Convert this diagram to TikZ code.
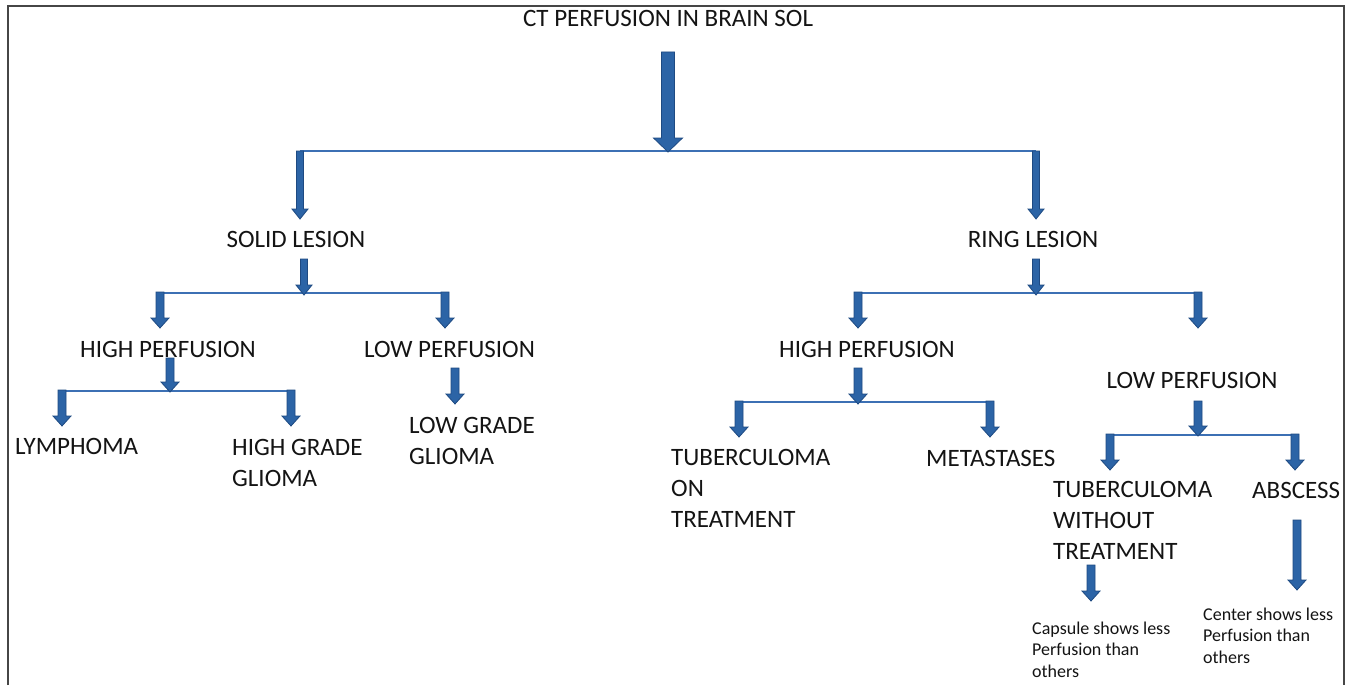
\documentclass[tikz,border=0pt]{standalone}
\usepackage{fontspec}
\setmainfont{Carlito}
\definecolor{arrfill}{RGB}{44,100,166}
\definecolor{arrline}{RGB}{30,74,130}
\definecolor{conn}{RGB}{60,112,180}
\definecolor{txt}{RGB}{20,20,20}
\definecolor{frame}{RGB}{70,70,70}
\newcommand\blkarrow[6]{%
  \filldraw[blockarr] ({#1-#4},#2) -- ({#1+#4},#2) -- ({#1+#4},{#3-#6}) -- ({#1+#5},{#3-#6}) -- (#1,#3) -- ({#1-#5},{#3-#6}) -- ({#1-#4},{#3-#6}) -- cycle;}
\tikzset{
  blockarr/.style={fill=arrfill, draw=arrline, line width=0.8pt, line join=miter},
  connline/.style={draw=conn, line width=2pt},
  big/.style={font=\fontsize{25}{31}\selectfont, text=txt, inner sep=0pt, align=left},
  small/.style={font=\fontsize{18}{21.5}\selectfont, text=txt, inner sep=0pt, align=left},
}
\begin{document}
\begin{tikzpicture}[x=1pt, y=-1pt]
\useasboundingbox (0,0) rectangle (1351,685);
\fill[white] (0,0) rectangle (1351,685);
% frame
\draw[frame, line width=1.6pt] (8,685) -- (8,6) -- (1344,6) -- (1344,685);

% texts (multi-line nodes: base = last line)
\node[big, anchor=base] (title) at (668,27) {CT PERFUSION IN BRAIN SOL};
\node[big, anchor=base] (solid) at (296,247) {SOLID LESION};
\node[big, anchor=base] (ring) at (1033,247) {RING LESION};
\node[big, anchor=base] (hpl) at (168,357) {HIGH PERFUSION};
\node[big, anchor=base] (lpl) at (449.5,357) {LOW PERFUSION};
\node[big, anchor=base west] (lymph) at (15,454) {LYMPHOMA};
\node[big, anchor=base west] (hgg) at (232,486) {HIGH GRADE\\GLIOMA};
\node[big, anchor=base west] (lgg) at (409,464) {LOW GRADE\\GLIOMA};
\node[big, anchor=base] (hpr) at (867,357) {HIGH PERFUSION};
\node[big, anchor=base west] (tbon) at (671,527) {TUBERCULOMA\\ON\\TREATMENT};
\node[big, anchor=base west] (meta) at (926,466) {METASTASES};
\node[big, anchor=base] (lpr) at (1192,388) {LOW PERFUSION};
\node[big, anchor=base west] (tbwo) at (1053,559) {TUBERCULOMA\\WITHOUT\\TREATMENT};
\node[big, anchor=base west] (absc) at (1252,498) {ABSCESS};
\node[small, anchor=base west] (caps) at (1032,677) {Capsule shows less\\Perfusion than\\others};
\node[small, anchor=base west] (cent) at (1203,663) {Center shows less\\Perfusion than\\others};

% connector lines
\draw[connline] (300,151) -- (1036,151);
\draw[connline] (160,293) -- (445,293);
\draw[connline] (62,391) -- (291,391);
\draw[connline] (857,293) -- (1198,293);
\draw[connline] (739,402) -- (990,402);
\draw[connline] (1110,435) -- (1295,435);

% arrows
\blkarrow{668}{52}{152}{6.5}{14.5}{14}
\blkarrow{300}{151}{219}{3.5}{8}{10}
\blkarrow{1036}{151}{219}{3.5}{8}{10}
\blkarrow{304}{259}{295}{3.5}{8}{10}
\blkarrow{1036}{259}{295}{3.5}{8}{10}
\blkarrow{160}{292}{328}{4}{9}{10}
\blkarrow{445}{292}{328}{4}{9}{10}
\blkarrow{170}{358}{392}{4}{9}{10}
\blkarrow{62}{390}{426}{4}{9}{10}
\blkarrow{291}{390}{426}{4}{9}{10}
\blkarrow{455}{368}{404}{4}{9}{10}
\blkarrow{858}{292}{328}{4}{9}{10}
\blkarrow{1198}{292}{328}{4}{9}{10}
\blkarrow{858}{368}{404}{4}{9}{10}
\blkarrow{739}{401}{437}{4}{9}{10}
\blkarrow{990}{401}{437}{4}{9}{10}
\blkarrow{1198}{401}{436}{4}{9}{10}
\blkarrow{1110}{434}{470}{4}{9}{10}
\blkarrow{1295}{434}{470}{4}{9}{10}
\blkarrow{1091}{565}{601}{4}{9}{10}
\blkarrow{1297}{520}{590}{4}{9}{10}
\end{tikzpicture}
\end{document}
